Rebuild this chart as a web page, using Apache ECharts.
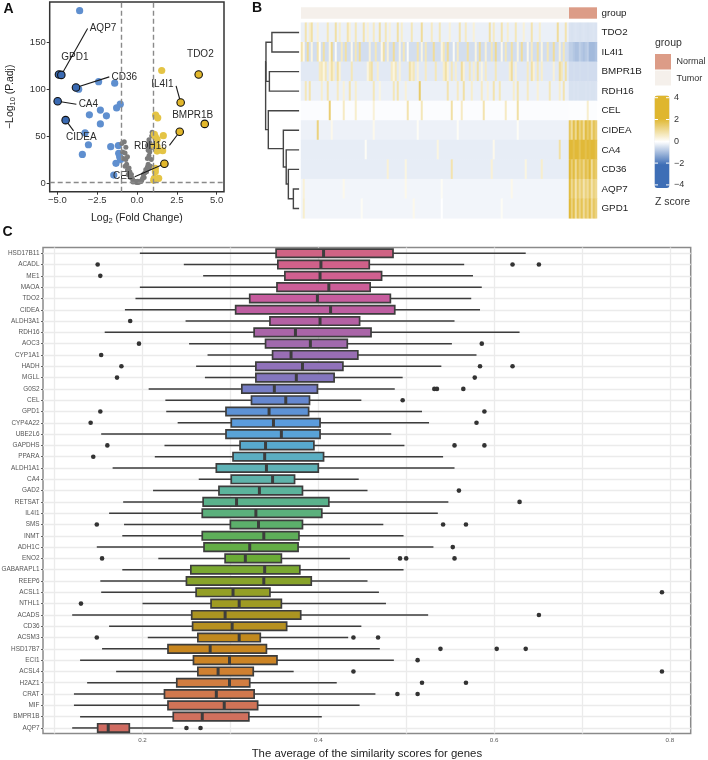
<!DOCTYPE html>
<html>
<head>
<meta charset="utf-8">
<title>figure</title>
<script src="https://cdn.jsdelivr.net/npm/echarts@6/dist/echarts.min.js"></script>
<style>
html, body { margin: 0; padding: 0; background: #fff; }
#main { width: 708px; height: 760px; }
</style>
</head>
<body>
<div id="main"></div>
<script>
// ---- panel A: volcano, [log2FC, -log10 padj]
const volcanoDown = [[-3.6,183.7],[-3.66,100],[-2.41,108],[-1.4,106.4],[-2.3,77.7],[-1.05,84],[-1.28,80],[-2.99,72.7],[-1.92,71.6],[-2.3,63],[-3.26,53.5],[-3.05,40.8],[-1.65,38.7],[-1.17,40],[-3.43,30.5],[-1.15,31.6],[-1.09,28],[-1.03,25],[-1.32,21],[-1.46,8.5]];
const volcanoUp = [[1.55,119.9],[1.17,72.3],[1.3,69.5],[1.65,50.4],[1.15,49.3],[1.26,46.5],[1.09,51.8],[1.61,34.4],[1.26,38.7],[1.09,39.7],[1.26,34],[1.15,15.6],[1.05,3],[1.36,5],[1.09,5],[1.15,12]];
const volcanoFlat = [[-0.95,42],[-0.8,44],[-0.7,38],[-0.9,33],[-0.75,32],[-0.85,26],[-0.7,25],[-0.6,28],[-0.65,20],[-0.75,18],[-0.5,16],[-0.6,14],[-0.45,12],[-0.55,9],[-0.35,9],[-0.4,6],[-0.3,5],[-0.25,3],[-0.2,2],[-0.15,1.5],[-0.1,1],[0,0.5],[0.05,0.5],[0.1,1],[0.15,1],[0.2,2],[0.3,3],[0.35,5],[0.45,6],[0.4,9],[0.5,11],[0.6,12],[0.55,14.5],[0.65,17],[0.7,20],[0.75,16],[0.65,26],[0.75,29],[0.8,33],[0.7,35],[0.85,37],[0.95,40],[0.65,40],[0.8,43],[0.92,50],[0.95,54],[0.75,46],[0.9,25],[0.85,18],[-0.25,1],[0.05,2],[-0.05,1.5],[0.25,1.5]];
const labeledDown = [['GPD1',-4.9,115.6],['AQP7',-4.75,115.2],['CD36',-3.83,101.8],['CA4',-4.98,87.2],['CIDEA',-4.48,67]];
const labeledUp = [['TDO2',3.87,115.6],['IL4I1',2.74,85.8],['BMPR1B',4.25,63],['RDH16',2.68,54.6],['CEL',1.72,20.6]];
// label placement relative to its dot, pixels: [textDx, textDy, lineDx, lineDy]
const labelOffsets = {
    AQP7: [41.7, -47, 26.3, -46.4],
    GPD1: [16, -17],
    CD36: [48.3, -10.6, 33.3, -10.6],
    CA4: [30.7, 3, 18.7, 3],
    CIDEA: [15.7, 16.7, 8, 10.7],
    TDO2: [1.7, -20],
    IL4I1: [-18.3, -18, -4.6, -16.6],
    BMPR1B: [-12, -9],
    RDH16: [-29.3, 14.3, -10.3, 13.6],
    CEL: [-41.7, 13, -29.7, 13]
};

// ---- panel B: heatmap, 134 tumor columns then 14 normal columns
const heatGenes = ['TDO2','IL4I1','BMPR1B','RDH16','CEL','CIDEA','CA4','CD36','AQP7','GPD1'];
const tumorCols = 134;
const normalCols = 14;
const tumorBase = [-0.22,-0.48,-0.32,-0.22,-0.04,-0.2,-0.26,-0.26,-0.14,-0.14];
// stripes read from the tumor part: [column, z]
const tdo2Cells = [[2,0.8],[4,0.5],[5,0.9],[8,0.4],[13,0.7],[17,0.9],[19,0.5],[23,0.8],[24,0.4],[27,0.7],[31,0.8],[33,0.4],[36,0.6],[39,0.9],[42,0.7],[44,0.4],[48,0.9],[50,0.5],[55,0.7],[60,1],[65,0.6],[69,0.7],[74,0.4],[79,0.8],[82,0.6],[86,0.4],[94,0.9],[96,0.6],[100,0.8],[103,0.5],[107,0.7],[111,0.4],[115,0.8],[119,0.5],[128,1],[132,0.8]];
const il4i1Cells = [[0,0.8],[1,0.2],[3,1],[5,0.3],[8,0.8],[9,0.1],[11,0.9],[14,0.3],[15,1.1],[17,0.1],[20,0.6],[22,0.9],[25,0.2],[27,0.7],[29,1],[34,0.4],[37,0.7],[40,0.2],[41,0.9],[43,0.4],[46,1],[49,0.3],[51,0.7],[53,0.1],[58,0.8],[60,0.3],[62,0.7],[66,1],[70,0.3],[71,0.7],[73,1],[76,0.1],[78,0.6],[83,0.9],[87,0.3],[89,1],[92,0.4],[95,0.7],[97,1.1],[100,0.2],[102,0.7],[105,0.9],[108,0.3],[110,1],[113,0.2],[115,0.6],[118,0.9],[120,0.3],[123,0.7],[126,1],[129,0.4],[131,0.7]];
const bmpr1bCells = [[9,0.6],[10,0.7],[11,0.3],[12,0.7],[14,0.4],[15,0.9],[16,0.5],[18,0.9],[19,0.4],[25,0.7],[33,0.3],[34,0.7],[35,0.9],[38,0.5],[45,0.6],[46,0.3],[47,0.7],[49,0.4],[54,0.9],[55,0.5],[56,0.7],[58,0.4],[62,0.6],[67,0.7],[71,0.5],[72,0.9],[73,0.4],[75,0.7],[77,0.5],[80,1],[81,0.4],[84,0.7],[86,0.5],[88,0.9],[90,0.3],[92,0.6],[97,0.7],[104,0.5],[105,1],[107,0.4],[113,0.6],[115,0.9],[116,0.4],[118,0.7],[120,0.5],[126,0.4],[129,1],[130,0.7],[132,0.9]];
const rdh16Cells = [[2,0.7],[4,0.8],[10,0.5],[13,0.8],[18,0.6],[21,0.4],[24,0.8],[27,0.5],[36,0.7],[39,0.3],[46,0.7],[48,0.8],[52,0.4],[59,1.5],[73,0.8],[78,0.6],[81,0.9],[85,0.5],[90,0.6],[93,0.4],[96,0.8],[99,0.7],[106,0.5],[108,0.8],[113,0.6],[118,0.4],[124,0.7],[129,0.5],[131,0.8]];
const celCells = [[14,1.4],[21,0.6],[27,0.5],[36,0.4],[53,0.8],[60,0.7],[75,0.9],[80,0.6],[91,0.8],[102,0.6],[108,0.9]];
const cideaCells = [[8,1.3],[15,0.2],[36,0.2],[58,0.1],[78,0.1],[108,0.1]];
const ca4Cells = [[32,0.1],[68,0.3],[96,0.2],[129,0.9]];
const cd36Cells = [[43,0.4],[52,0.3],[75,0.8],[95,0.4],[112,0.3],[120,0.5]];
const aqp7Cells = [[1,0.4],[21,0.2],[52,0.2],[70,0.1],[105,0.2]];
const gpd1Cells = [[1,0.5],[30,0.1],[56,0.2],[70,0],[100,0.1]];
const heatStripes = [tdo2Cells, il4i1Cells, bmpr1bCells, rdh16Cells, celCells, cideaCells, ca4Cells, cd36Cells, aqp7Cells, gpd1Cells];
// normal columns, left to right
const tdo2Normal = [-0.4,-0.42,-0.4,-0.38,-0.4,-0.42,-0.4,-0.38,-0.4,-0.42,-0.4,-0.4,-0.38,-0.4];
const il4i1Normal = [-0.7,-0.7,-0.8,-0.9,-0.9,-0.7,-0.8,-0.9,-0.8,-0.7,-1,-1,-1,-0.9];
const bmpr1bNormal = [-0.5,-0.5,-0.48,-0.5,-0.5,-0.48,-0.5,-0.5,-0.5,-0.48,-0.5,-0.5,-0.5,-0.5];
const rdh16Normal = [-0.42,-0.42,-0.4,-0.42,-0.4,-0.42,-0.42,-0.42,-0.4,-0.42,-0.4,-0.42,-0.42,-0.4];
const celNormal = [-0.03,-0.03,-0.03,-0.03,-0.03,-0.03,-0.03,-0.03,-0.03,0.5,-0.03,-0.03,-0.03,-0.03];
const cideaNormal = [1.6,1,1.8,1.1,1.9,1.3,1.7,1,1.9,1.5,1.8,1,1.7,1.4];
const ca4Normal = [2,2,1.8,2,2,1.7,2,2,1.8,2,1.9,2,2,1.8];
const cd36Normal = [2,1.4,1.9,1.1,1.8,1.4,1.7,1.2,1.8,1.5,2,1,1.7,1.5];
const aqp7Normal = [1.9,1.1,1.6,0.8,1.5,1,1.4,0.8,1.3,1,1.5,0.8,1.3,1.1];
const gpd1Normal = [2,1.3,1.8,0.9,1.7,1.2,1.7,1,1.6,1.2,1.8,1,1.6,1.3];
const heatNormal = [tdo2Normal, il4i1Normal, bmpr1bNormal, rdh16Normal, celNormal, cideaNormal, ca4Normal, cd36Normal, aqp7Normal, gpd1Normal];
// dendrogram: [child, child, height]; a child >= 10 is merge number child - 10
const dendroMerges = [[0,1,7.6],[2,3,8.3],[10,11,9.25],[8,9,1.6],[7,13,3],[6,14,3.6],[5,15,4.4],[4,16,8.6],[12,17,9.35]];
const zTicks = [4,2,0,-2,-4];

// ---- panel C: boxplots, top row first
const boxGenes = ['HSD17B11','ACADL','ME1','MAOA','TDO2','CIDEA','ALDH3A1','RDH16','AOC3','CYP1A1','HADH','MGLL','G0S2','CEL','GPD1','CYP4A22','UBE2L6','GAPDHS','PPARA','ALDH1A1','CA4','GAD2','RETSAT','IL4I1','SMS','INMT','ADH1C','ENO2','GABARAPL1','REEP6','ACSL1','NTHL1','ACADS','CD36','ACSM3','HSD17B7','ECI1','ACSL4','H2AZ1','CRAT','MIF','BMPR1B','AQP7'];
// [lower whisker, Q1, median, Q3, upper whisker]
const boxStats = [
    [0.197,0.352,0.406,0.485,0.636],[0.247,0.354,0.403,0.458,0.566],[0.269,0.362,0.402,0.472,0.576],[0.197,0.353,0.412,0.459,0.586],
    [0.192,0.322,0.399,0.482,0.574],[0.180,0.306,0.414,0.487,0.584],[0.249,0.345,0.402,0.447,0.555],[0.157,0.327,0.374,0.460,0.629],
    [0.253,0.340,0.391,0.433,0.552],[0.274,0.348,0.369,0.445,0.580],[0.261,0.329,0.382,0.428,0.540],[0.271,0.329,0.375,0.418,0.496],
    [0.207,0.313,0.350,0.399,0.487],[0.226,0.324,0.363,0.390,0.449],[0.227,0.295,0.344,0.389,0.518],[0.240,0.301,0.349,0.402,0.526],
    [0.153,0.295,0.358,0.402,0.483],[0.225,0.311,0.340,0.395,0.498],[0.214,0.303,0.339,0.406,0.542],[0.166,0.284,0.341,0.400,0.555],
    [0.264,0.301,0.348,0.373,0.446],[0.212,0.287,0.333,0.382,0.456],[0.178,0.269,0.307,0.412,0.548],[0.162,0.268,0.329,0.404,0.536],
    [0.179,0.300,0.332,0.382,0.474],[0.177,0.268,0.338,0.378,0.497],[0.148,0.270,0.322,0.377,0.531],[0.218,0.294,0.317,0.358,0.436],
    [0.177,0.255,0.339,0.379,0.497],[0.152,0.250,0.338,0.392,0.456],[0.153,0.261,0.303,0.345,0.469],[0.200,0.278,0.310,0.358,0.477],
    [0.120,0.256,0.294,0.380,0.525],[0.162,0.257,0.302,0.364,0.449],[0.206,0.263,0.310,0.334,0.434],[0.154,0.229,0.277,0.341,0.470],
    [0.129,0.258,0.299,0.353,0.486],[0.170,0.263,0.286,0.326,0.372],[0.137,0.239,0.299,0.322,0.421],[0.122,0.225,0.284,0.327,0.465],
    [0.122,0.229,0.293,0.331,0.447],[0.129,0.235,0.268,0.321,0.404],[0.120,0.149,0.161,0.185,0.235]
];
// [row, value]
const boxOutliers = [
    [1,0.149],[1,0.621],[1,0.651],[2,0.152],[6,0.186],[8,0.196],[8,0.586],[9,0.153],[10,0.176],[10,0.584],[10,0.621],
    [11,0.171],[11,0.578],[12,0.532],[12,0.535],[12,0.565],[13,0.496],[14,0.152],[14,0.589],[15,0.141],[15,0.580],
    [17,0.160],[17,0.555],[17,0.589],[18,0.144],[21,0.560],[22,0.629],[24,0.148],[24,0.542],[24,0.568],[26,0.553],
    [27,0.154],[27,0.493],[27,0.500],[27,0.555],[30,0.791],[31,0.130],[32,0.651],[34,0.148],[34,0.440],[34,0.468],
    [35,0.539],[35,0.603],[35,0.636],[36,0.513],[37,0.440],[37,0.791],[38,0.518],[38,0.568],[39,0.490],[39,0.513],
    [42,0.250],[42,0.266]
];
const boxPalette = ['#cf6384','#d1608f','#c95c9e','#b760a3','#a468aa','#9570b8','#7f78c0','#5f8bd2','#5a9fdf','#58aacb','#5fb3b6','#5cb49c','#5bb07e','#5dae5c','#66ad38','#84a52c','#9a9d24','#b09320','#c5871c','#cd8326','#d17c44','#d07358','#d06c62'];

const FONT = '"Liberation Sans", Arial, sans-serif';
const panelBLeft = 301, panelBWidth = 296;

function fmtMinus(text) {
    return String(text).replace('-', '\u2212');
}

function buildHeatData() {
    let cells = [];
    heatGenes.forEach((g, row) => {
        let tumor = new Array(tumorCols).fill(tumorBase[row]);
        heatStripes[row].forEach(s => { tumor[s[0]] = s[1]; });
        tumor.forEach((z, col) => cells.push([col, row, z]));
        heatNormal[row].forEach((z, i) => cells.push([tumorCols + i, row, z]));
    });
    return cells;
}

function buildDendroData() {
    let nodes = [];
    heatGenes.forEach((g, i) => { nodes.push({ y: i, h: 0 }); });
    let segs = [];
    dendroMerges.forEach(m => {
        let a = nodes[m[0]], b = nodes[m[1]];
        segs.push([a.y, a.h, b.y, b.h, m[2]]);
        nodes.push({ y: (a.y + b.y) / 2, h: m[2] });
    });
    return segs;
}

function renderDendro(params, api) {
    let p1 = api.coord([api.value(1), api.value(0)]);
    let p2 = api.coord([api.value(4), api.value(0)]);
    let p3 = api.coord([api.value(4), api.value(2)]);
    let p4 = api.coord([api.value(3), api.value(2)]);
    return {
        type: 'polyline',
        shape: { points: [p1, p2, p3, p4] },
        style: { fill: null, stroke: '#454545', lineWidth: 1.4 }
    };
}

function renderLabel(params, api) {
    let name = [...labeledDown, ...labeledUp][params.dataIndex][0];
    let off = labelOffsets[name];
    let c = api.coord([api.value(0), api.value(1)]);
    let children = [];
    if (off.length > 2) {
        children.push({
            type: 'line',
            shape: { x1: c[0], y1: c[1], x2: c[0] + off[2], y2: c[1] + off[3] },
            style: { stroke: '#1a1a1a', lineWidth: 1.1 }
        });
    }
    children.push({
        type: 'text',
        style: {
            x: c[0] + off[0], y: c[1] + off[1], text: name, align: 'center', verticalAlign: 'middle',
            font: '10px ' + FONT, fill: '#2a2a2a'
        }
    });
    return { type: 'group', children: children };
}

function renderBox(params, api) {
    let row = api.value(0);
    let y = api.coord([0.2, row])[1];
    let px = i => api.coord([api.value(i), row])[0];
    let h = 8.4;
    let color = echarts.color.lerp(row / (boxGenes.length - 1), boxPalette);
    let edge = { stroke: '#3d3d3d', lineWidth: 1.5 };
    return {
        type: 'group',
        children: [
            { type: 'line', shape: { x1: px(1), y1: y, x2: px(2), y2: y }, style: edge },
            { type: 'line', shape: { x1: px(4), y1: y, x2: px(5), y2: y }, style: edge },
            { type: 'rect', shape: { x: px(2), y: y - h / 2, width: px(4) - px(2), height: h }, style: { fill: color, stroke: '#3d3d3d', lineWidth: 1.7 } },
            { type: 'line', shape: { x1: px(3), y1: y - h / 2, x2: px(3), y2: y + h / 2 }, style: { stroke: '#3d3d3d', lineWidth: 3 } }
        ]
    };
}

function panelLetter(text, x, y) {
    return { type: 'text', x: x, y: y, style: { text: text, font: 'bold 14px ' + FONT, fill: '#111', align: 'center', verticalAlign: 'middle' } };
}

function legendText(text, x, y, size) {
    return { type: 'text', x: x, y: y, style: { text: text, font: size + 'px ' + FONT, fill: '#333', verticalAlign: 'middle' } };
}

function buildGraphics() {
    let list = [
        panelLetter('A', 8.5, 9.5), panelLetter('B', 257, 8.5), panelLetter('C', 7.5, 232.5),
        legendText('group', 655, 43, 10.5),
        { type: 'rect', shape: { x: 655, y: 54, width: 16, height: 15.5 }, style: { fill: '#dc9c87' } },
        { type: 'rect', shape: { x: 655, y: 70.5, width: 16, height: 15 }, style: { fill: '#f5f0eb' } },
        legendText('Normal', 676.5, 62, 9),
        legendText('Tumor', 676.5, 78.5, 9),
        legendText('Z score', 655, 202, 10.5)
    ];
    zTicks.forEach((z, i) => {
        let y = 97.7 + i * 21.8;
        list.push(legendText(fmtMinus(z), 674, y, 9));
        list.push({ type: 'line', z: 50, shape: { x1: 654.5, y1: y, x2: 658, y2: y }, style: { stroke: '#fff', lineWidth: 1 } });
        list.push({ type: 'line', z: 50, shape: { x1: 666, y1: y, x2: 669.5, y2: y }, style: { stroke: '#fff', lineWidth: 1 } });
    });
    return list;
}

let chart = echarts.init(document.getElementById('main'), null, { renderer: 'canvas' });

let option = {
    animation: false,
    textStyle: { fontFamily: FONT },
    graphic: buildGraphics(),
    visualMap: [{
        type: 'continuous', seriesIndex: 5, dimension: 2, min: -4.2, max: 4.2, calculable: false,
        left: 654.5, top: 95.5, itemWidth: 15, itemHeight: 92.5, padding: 0, text: ['', ''], showLabel: false,
        inRange: { color: ['#3e6eb6', '#3e6eb6', '#ffffff', '#dfb62e', '#dfb62e'] }, hoverLink: false
    }],
    grid: [
        { outerBoundsMode: 'none', left: 49.7, top: 2, width: 174.3, height: 189.7, show: true, borderColor: '#333', borderWidth: 1.5, backgroundColor: '#fff' },
        { outerBoundsMode: 'none', left: panelBLeft, top: 22.7, width: panelBWidth, height: 195.6 },
        { outerBoundsMode: 'none', left: panelBLeft, top: 7.3, width: panelBWidth, height: 11.4 },
        { outerBoundsMode: 'none', left: 263.3, top: 22.7, width: 35.8, height: 195.6 },
        { outerBoundsMode: 'none', left: 43, top: 247.6, width: 647.7, height: 486, show: true, borderColor: '#8a8a8a', borderWidth: 1.5 }
    ],
    xAxis: [
        {
            gridIndex: 0, type: 'value', min: -5.48, max: 5.46,
            name: '{n|Log}{s|2}{n| (Fold Change)}', nameLocation: 'middle', nameGap: 19,
            nameTextStyle: { rich: { n: { fontSize: 10.5, color: '#222' }, s: { fontSize: 7.5, color: '#222', padding: [6, 0, 0, 0] } } },
            axisLine: { show: false, onZero: false }, splitLine: { show: false },
            axisTick: { customValues: [-5, -2.5, 0, 2.5, 5], length: 3, lineStyle: { color: '#333' } },
            axisLabel: { customValues: [-5, -2.5, 0, 2.5, 5], fontSize: 9.5, color: '#333', margin: 4, formatter: v => fmtMinus(v.toFixed(1)) }
        },
        { gridIndex: 1, type: 'category', data: [...Array(tumorCols + normalCols).keys()], show: false },
        { gridIndex: 2, type: 'value', min: 0, max: tumorCols + normalCols, show: false },
        { gridIndex: 3, type: 'value', min: 0, max: 10, inverse: true, show: false },
        {
            gridIndex: 4, type: 'value', min: 0.0868, max: 0.8237,
            name: 'The average of the similarity scores for genes', nameLocation: 'middle', nameGap: 15,
            nameTextStyle: { fontSize: 11.4, color: '#222' },
            axisLine: { show: false, onZero: false },
            axisTick: { show: false, customValues: [0.1, 0.2, 0.3, 0.4, 0.5, 0.6, 0.7, 0.8] },
            splitLine: { show: true, lineStyle: { color: '#ebebeb', width: 1.3 } },
            axisLabel: { customValues: [0.2, 0.4, 0.6, 0.8], fontSize: 6.2, color: '#5a5a5a', margin: 4, formatter: v => v.toFixed(1) }
        }
    ],
    yAxis: [
        {
            gridIndex: 0, type: 'value', min: -9.25, max: 192.9,
            name: '{n|\u2212Log}{s|10}{n| (P.adj)}', nameLocation: 'middle', nameGap: 33,
            nameTextStyle: { rich: { n: { fontSize: 10.5, color: '#222' }, s: { fontSize: 7.5, color: '#222', padding: [6, 0, 0, 0] } } },
            axisLine: { show: false, onZero: false }, splitLine: { show: false },
            axisTick: { customValues: [0, 50, 100, 150], length: 3, lineStyle: { color: '#333' } },
            axisLabel: { customValues: [0, 50, 100, 150], fontSize: 9.5, color: '#333', margin: 4 }
        },
        {
            gridIndex: 1, type: 'category', data: heatGenes, inverse: true, position: 'right',
            axisLine: { show: false }, axisTick: { show: false },
            axisLabel: { interval: 0, fontSize: 9.8, color: '#222', margin: 4.5 }
        },
        {
            gridIndex: 2, type: 'category', data: ['group'], position: 'right',
            axisLine: { show: false }, axisTick: { show: false },
            axisLabel: { fontSize: 9.8, color: '#222', margin: 4.5 }
        },
        { gridIndex: 3, type: 'value', min: -0.5, max: 9.5, inverse: true, show: false },
        {
            gridIndex: 4, type: 'category', data: boxGenes, inverse: true,
            axisLine: { show: false, onZero: false },
            axisTick: { show: true, alignWithLabel: true, length: 2, lineStyle: { color: '#666' } },
            splitLine: { show: true, alignWithLabel: true, interval: 0, lineStyle: { color: '#ebebeb', width: 1.3 } },
            axisLabel: { interval: 0, fontSize: 6.4, color: '#555', margin: 3.5 }
        }
    ],
    series: [
        // 0-4 volcano
        {
            type: 'scatter', xAxisIndex: 0, yAxisIndex: 0, data: volcanoDown, symbolSize: 7.2,
            itemStyle: { color: '#5f8fcf', opacity: 1 }, z: 2,
            markLine: {
                silent: true, symbol: 'none', label: { show: false },
                lineStyle: { color: '#8a8a8a', type: [5, 3], width: 1.4 },
                data: [{ xAxis: -1 }, { xAxis: 1 }, { yAxis: 1.3 }]
            }
        },
        { type: 'scatter', xAxisIndex: 0, yAxisIndex: 0, data: volcanoFlat, symbolSize: 5, itemStyle: { color: '#7b7b7b', opacity: 1 }, z: 2 },
        { type: 'scatter', xAxisIndex: 0, yAxisIndex: 0, data: volcanoUp, symbolSize: 7.2, itemStyle: { color: '#e4c445', opacity: 1 }, z: 2 },
        {
            type: 'scatter', xAxisIndex: 0, yAxisIndex: 0, data: labeledDown.map(d => [d[1], d[2]]), symbolSize: 7.5, z: 5,
            itemStyle: { color: '#3a6ab2', borderColor: '#111', borderWidth: 1.1, opacity: 1 }
        },
        {
            type: 'scatter', xAxisIndex: 0, yAxisIndex: 0, data: labeledUp.map(d => [d[1], d[2]]), symbolSize: 7.5, z: 5,
            itemStyle: { color: '#e2b72b', borderColor: '#111', borderWidth: 1.1, opacity: 1 }
        },
        // 5 heatmap
        {
            type: 'heatmap', xAxisIndex: 1, yAxisIndex: 1, data: buildHeatData(), progressive: 0,
            emphasis: { disabled: true }
        },
        // 6-7 group strip
        { type: 'bar', xAxisIndex: 2, yAxisIndex: 2, stack: 'group', barWidth: '100%', data: [tumorCols], itemStyle: { color: '#f5f0eb' } },
        { type: 'bar', xAxisIndex: 2, yAxisIndex: 2, stack: 'group', barWidth: '100%', data: [normalCols], itemStyle: { color: '#dc9c87' } },
        // 8 dendrogram
        { type: 'custom', xAxisIndex: 3, yAxisIndex: 3, data: buildDendroData(), renderItem: renderDendro },
        // 9 volcano labels
        {
            type: 'custom', xAxisIndex: 0, yAxisIndex: 0, z: 4,
            data: [...labeledDown, ...labeledUp].map(d => [d[1], d[2]]), renderItem: renderLabel
        },
        // 10 boxes
        {
            type: 'custom', xAxisIndex: 4, yAxisIndex: 4, z: 3,
            data: boxStats.map((s, i) => [i, ...s]), encode: { x: [1, 2, 3, 4, 5], y: 0 }, renderItem: renderBox
        },
        // 11 outliers
        {
            type: 'scatter', xAxisIndex: 4, yAxisIndex: 4, z: 4, symbolSize: 4.6, itemStyle: { color: '#333', opacity: 1 },
            data: boxOutliers.map(o => [o[1], o[0]])
        }
    ]
};

chart.setOption(option);
</script>
</body>
</html>
